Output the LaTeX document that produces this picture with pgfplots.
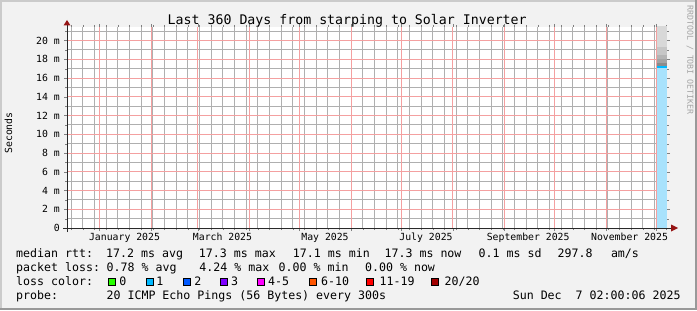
\documentclass[border=0pt]{standalone}
\usepackage{pgfplots}
\pgfplotsset{compat=1.18}
\usepackage{fontspec}
\setmainfont{DejaVu Sans Mono}
\setmonofont{DejaVu Sans Mono}
\definecolor{bgc}{RGB}{242,242,242}
\definecolor{shadea}{HTML}{CBCBCB}
\definecolor{shadeb}{HTML}{999999}
\definecolor{majgridc}{RGB}{244,160,160}
\definecolor{mingridc}{RGB}{175,175,175}
\definecolor{arrowc}{RGB}{150,20,20}
\definecolor{axisc}{RGB}{40,40,40}
\definecolor{wmc}{RGB}{165,165,165}
\definecolor{lc0}{HTML}{26FF00}
\definecolor{lc1}{HTML}{00B8FF}
\definecolor{lc2}{HTML}{0059FF}
\definecolor{lc3}{HTML}{7E00FF}
\definecolor{lc4}{HTML}{FF00FF}
\definecolor{lc6}{HTML}{FF5500}
\definecolor{lc11}{HTML}{FF0000}
\definecolor{lc20}{HTML}{A10000}
\definecolor{fillblue}{RGB}{168,226,252}
\definecolor{smokeA}{RGB}{140,140,140}
\definecolor{smokeB}{RGB}{164,164,164}
\definecolor{smokeC}{RGB}{180,180,180}
\definecolor{smokeD}{RGB}{198,198,198}
\definecolor{smokeE}{RGB}{216,216,216}
\newcommand{\legfont}{\fontsize{11.65}{13}\selectfont}
\newcommand{\tickfont}{\fontsize{9.85}{11}\selectfont}
\newcommand{\titlefont}{\fontsize{13.3}{15}\selectfont}
\newcommand{\wmfont}{\fontsize{8.3}{9}\selectfont}

\begin{document}
\begin{tikzpicture}[x=1bp,y=1bp]
\fill[bgc] (0,0) rectangle (697,310);
\fill[shadea] (0,308) rectangle (697,310);
\fill[shadea] (0,0) rectangle (2,310);
\fill[shadeb] (0,0) rectangle (697,2);
\fill[shadeb] (695,0) rectangle (697,310);
\begin{axis}[
  at={(67bp,82bp)}, anchor=south west,
  scale only axis, width=600bp, height=201bp,
  xmin=0, xmax=360, ymin=0, ymax=21.44,
  axis background/.style={fill=white},
  axis line style={draw=none},
  xtick={19.5,50.5,78.5,109.5,139.5,170.5,200.5,231.5,262.5,292.5,323.5,353.5},
  xticklabel={\relax},
  minor xtick={2.4,9.4,...,359.4},
  extra x ticks={34.5,93.3,154.8,215.4,276.7,337.5},
  extra x tick labels={January 2025,March 2025,May 2025,July 2025,September 2025,November 2025},
  extra x tick style={major tick length=0pt, xticklabel style={anchor=north, inner sep=0pt, yshift=-5bp}},
  ytick={0,2,...,20},
  yticklabels={0,2 m,4 m,6 m,8 m,10 m,12 m,14 m,16 m,18 m,20 m},
  minor ytick={1,3,...,21},
  tick align=outside,
  major tick length=3bp, minor tick length=2bp,
  ticklabel style={font=\tickfont},
  yticklabel style={anchor=east, inner sep=0pt, xshift=-4bp},
]
% minor grid (weekly, odd ms)
\foreach \xx in {2.4,9.4,...,359.4}{
  \edef\tmp{\noexpand\draw[color=mingridc, line width=1bp] (axis cs:\xx,0) -- (axis cs:\xx,21.44);}\tmp}
\foreach \yy in {1,3,...,21}{
  \edef\tmp{\noexpand\draw[color=mingridc, line width=1bp] (axis cs:0,\yy) -- (axis cs:360,\yy);}\tmp}
% major grid (month starts, even ms)
\foreach \xx in {19.5,50.5,78.5,109.5,139.5,170.5,200.5,231.5,262.5,292.5,323.5,353.5}{
  \edef\tmp{\noexpand\draw[color=majgridc, line width=1bp] (axis cs:\xx,0) -- (axis cs:\xx,21.44);}\tmp}
\foreach \yy in {2,4,...,20}{
  \edef\tmp{\noexpand\draw[color=majgridc, line width=1bp] (axis cs:0,\yy) -- (axis cs:360,\yy);}\tmp}
\addplot[fill=smokeE, draw=none] coordinates {(353.7,21.5) (359.9,21.5)} \closedcycle;
\addplot[fill=smokeD, draw=none] coordinates {(353.7,19.3) (359.9,19.3)} \closedcycle;
\addplot[fill=smokeC, draw=none] coordinates {(353.7,18.5) (359.9,18.5)} \closedcycle;
\addplot[fill=smokeB, draw=none] coordinates {(353.7,18.0) (359.9,18.0)} \closedcycle;
\addplot[fill=smokeA, draw=none] coordinates {(353.7,17.6) (359.9,17.6)} \closedcycle;
\addplot[fill=fillblue, draw=none] coordinates {(353.7,17.1) (359.9,17.1)} \closedcycle;
\addplot[color=lc1, line width=2bp] coordinates {(353.7,17.2) (359.9,17.2)};
\end{axis}
% axes
\draw[color=axisc, line width=1bp] (63,82) -- (671,82);
\fill[arrowc] (671,78.5) -- (678,82) -- (671,85.5) -- cycle;
\draw[color=axisc, line width=1bp] (67,78) -- (67,285);
\fill[arrowc] (63.5,284.5) -- (67,290) -- (70.5,284.5) -- cycle;
% title and labels
\node[anchor=base, inner sep=0pt, font=\titlefont] at (347.2,286) {Last 360 Days from starping to Solar Inverter};
\node[rotate=90, inner sep=0pt, font=\tickfont] at (8.5,177) {Seconds};
\node[rotate=-90, inner sep=0pt, font=\wmfont, text=wmc] at (690,250) {RRDTOOL / TOBI OETIKER};
% legend lines
\begin{scope}[every node/.style={anchor=base west, inner sep=0pt, font=\legfont}]
\node at (16,52.4) {median rtt:};
\node at (106,52.4) {17.2 ms avg};
\node at (198.7,52.4) {17.3 ms max};
\node at (292.7,52.4) {17.1 ms min};
\node at (384.4,52.4) {17.3 ms now};
\node at (478.5,52.4) {0.1 ms sd};
\node at (557.4,52.4) {297.8};
\node at (610.8,52.4) {am/s};
\node at (16,38.5) {packet loss:};
\node at (106.5,38.5) {0.78 \% avg};
\node at (199.2,38.5) {4.24 \% max};
\node at (278.5,38.5) {0.00 \% min};
\node at (364.9,38.5) {0.00 \% now};
\node at (16,24.5) {loss color:};
\node at (119.2,24.5) {0};
\node at (156.2,24.5) {1};
\node at (194.2,24.5) {2};
\node at (230.9,24.5) {3};
\node at (268,24.5) {4-5};
\node at (320.9,24.5) {6-10};
\node at (379.5,24.5) {11-19};
\node at (444.5,24.5) {20/20};
\node at (16,10.7) {probe:};
\node at (106.4,10.7) {20 ICMP Echo Pings (56 Bytes) every 300s};
\node at (512.6,10.7) {Sun Dec~~7 02:00:06 2025};
\end{scope}
\foreach \xx/\cc in {108.3/lc0,145.7/lc1,182.7/lc2,219.7/lc3,256.7/lc4,309/lc6,365.7/lc11,430.7/lc20}{
  \filldraw[fill=\cc, draw=black, line width=0.9bp] (\xx+0.45,24.7) rectangle (\xx+7.25,31.5);
}
\pgfresetboundingbox
\path[use as bounding box] (0,0) rectangle (697,310);
\end{tikzpicture}
\end{document}
